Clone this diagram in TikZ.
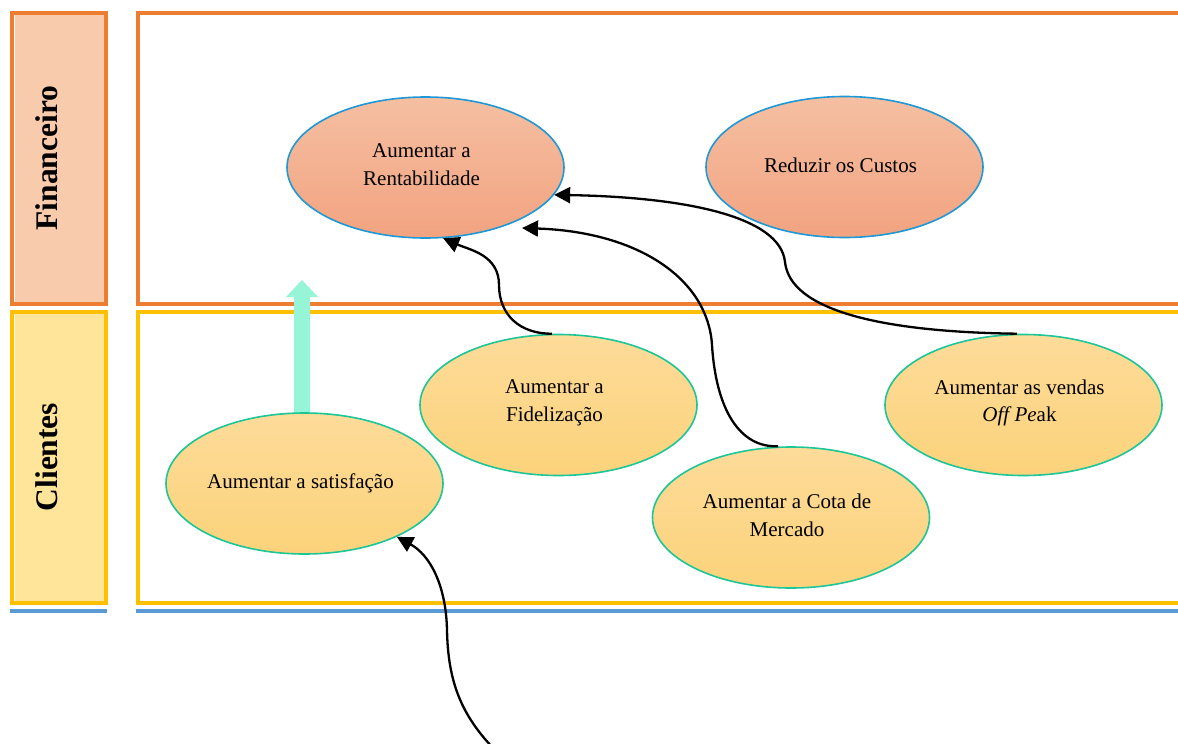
\documentclass[tikz,border=0pt]{standalone}
\usepackage{fontspec}
\setmainfont{Liberation Serif}
\usetikzlibrary{arrows.meta,shapes.geometric}
\definecolor{finline}{RGB}{237,125,49}
\definecolor{cliline}{RGB}{255,192,0}
\definecolor{baseblue}{RGB}{91,155,213}
\definecolor{finband}{RGB}{248,203,173}
\definecolor{cliband}{RGB}{255,229,153}
\definecolor{fintop}{RGB}{245,191,162}
\definecolor{finbot}{RGB}{242,163,128}
\definecolor{clitop}{RGB}{253,219,153}
\definecolor{clibot}{RGB}{252,211,123}
\definecolor{finedge}{RGB}{30,152,214}
\definecolor{cliedge}{RGB}{28,198,150}
\definecolor{mint}{RGB}{150,245,214}
\begin{document}
\begin{tikzpicture}[x=1pt,y=-1pt,
  goal/.style={ellipse, minimum width=277pt, minimum height=141pt, inner sep=0pt, line width=1.6pt},
  fingoal/.style={goal, draw=finedge, top color=fintop, bottom color=finbot},
  cligoal/.style={goal, draw=cliedge, top color=clitop, bottom color=clibot},
  lbl/.style={align=center, font=\fontsize{21}{27.5}\selectfont, inner sep=0pt, xshift=-4pt},
  bandtitle/.style={rotate=90, font=\fontsize{31.5}{36}\selectfont\bfseries, inner sep=0pt},
  link/.style={line width=2.3pt, -{Triangle[length=16pt,width=16pt]}},
  band/.style={line width=4pt}
  ]
\useasboundingbox (0,0) rectangle (1178,744);
\fill[white] (0,0) rectangle (1178,744);

% perspective bands
\fill[finband] (15,15) rectangle (104,301.7);
\draw[band, finline] (12,13) rectangle (106,303.7);
\draw[band, finline] (1190,13) -- (138,13) -- (138,303.7) -- (1190,303.7);
\fill[cliband] (15,313.7) rectangle (104,601);
\draw[band, cliline] (12,311.7) rectangle (106,603);
\draw[band, cliline] (1190,311.7) -- (138,311.7) -- (138,603) -- (1190,603);
\draw[band, baseblue] (10,611) -- (107,611) (136,611) -- (1190,611);

\node[bandtitle] (finT) at (47,158) {Financeiro};
\node[bandtitle] (cliT) at (47,457) {Clientes};

% block arrow from the customer band up to the financial band
\fill[mint] (294,413) -- (294,297) -- (286,297) -- (302,280) -- (318,297) -- (310,297) -- (310,413) -- cycle;

% objectives
\node[fingoal] (rent) at (425.5,167.5) {};
\node[fingoal] (cost) at (844.5,167) {};
\node[cligoal] (fid)  at (558.5,405) {};
\node[cligoal] (off)  at (1023.5,405) {};
\node[cligoal] (cota) at (791,517.5) {};
\node[cligoal] (sat)  at (304.5,483.5) {};

\node[lbl, yshift=3pt] (rentT) at (rent.center) {Aumentar a\\Rentabilidade};
\node[lbl, yshift=2pt] (costT) at (cost.center) {Reduzir os Custos};
\node[lbl, yshift=2pt] (fidT)  at (fid.center)  {Aumentar a\\Fidelização};
\node[lbl, yshift=2pt] (offT)  at (off.center)  {Aumentar as vendas\\\textit{Off Pe}ak};
\node[lbl, yshift=2pt] (cotaT) at (cota.center) {Aumentar a Cota de\\Mercado};
\node[lbl] (satT) at (sat.center) {Aumentar a satisfação};

% cause-and-effect links
\coordinate (src) at (497,752);
\coordinate (cotaTip) at (522,228);

\draw[link] ([xshift=-6.5pt]fid.north) .. controls (520,334) and (499,315) .. (499,285)
  .. controls (499,255) and (470,250) .. (rent.-76);
\draw[link] ([xshift=-13pt]cota.north) .. controls (740,448) and (716,410) .. (712,345)
  .. controls (708,280) and (640,232) .. (cotaTip);
\draw[link] ([xshift=-6.5pt]off.north) .. controls (880,332) and (790,310) .. (785,262)
  .. controls (780,215) and (680,197) .. (rent.-12);
\draw[link] (src) .. controls (460,715) and (448,680) .. (447,630)
  .. controls (446,585) and (430,555) .. (sat.-30);
\end{tikzpicture}
\end{document}
